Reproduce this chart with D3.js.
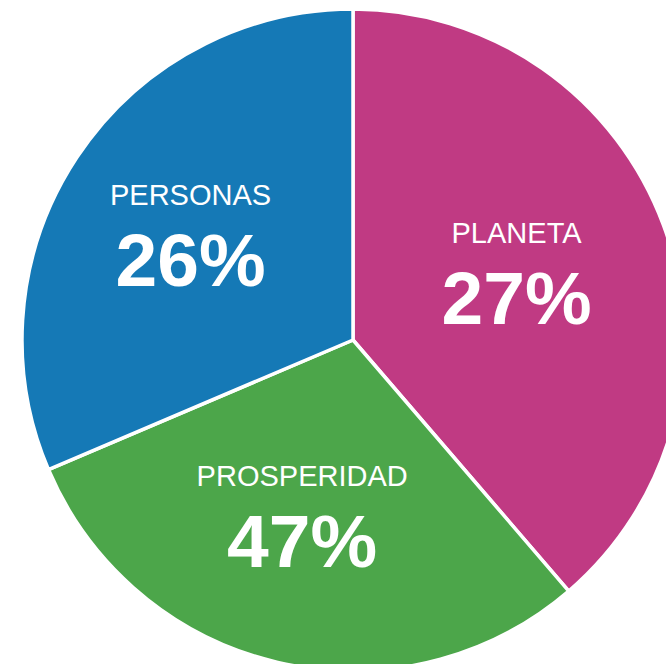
<!DOCTYPE html>
<meta charset="utf-8">
<style>
body { margin: 0; background: #fff; }
svg { font-family: "Liberation Sans", Arial, sans-serif; }
</style>
<svg width="666" height="664"></svg>
<script src="https://cdn.jsdelivr.net/npm/d3@7"></script>
<script>
// slice sizes (degrees share), labels as printed
var names = ["PLANETA", "PROSPERIDAD", "PERSONAS"];
var shares = [38.7, 29.9, 31.4];
var labels = ["27%", "47%", "26%"];
var colors = ["#c03a83", "#4ca64a", "#1579b6"];

var svg = d3.select("svg"),
    cx = 353,
    cy = 340,
    radius = 331;

var pie = d3.pie().sort(null).value(function(d) { return d; });
var arc = d3.arc().innerRadius(0).outerRadius(radius);
var labelArc = d3.arc().innerRadius(184).outerRadius(184);

var g = svg.append("g").attr("transform", "translate(" + cx + "," + cy + ")");

var slice = g.selectAll("g.slice")
    .data(pie(shares))
    .enter().append("g")
    .attr("class", "slice");

slice.append("path")
    .attr("d", arc)
    .attr("fill", function(d, i) { return colors[i]; })
    .attr("stroke", "#fff")
    .attr("stroke-width", 3.5)
    .attr("stroke-linejoin", "round");

var txt = slice.append("g")
    .attr("transform", function(d) {
      var c = labelArc.centroid(d);
      return "translate(" + (c[0] - 9) + "," + c[1] + ")";
    });

txt.append("text")
    .attr("text-anchor", "middle")
    .attr("y", -33)
    .attr("fill", "#fff")
    .style("font-size", "29px")
    .text(function(d, i) { return names[i]; });

txt.append("text")
    .attr("text-anchor", "middle")
    .attr("y", 48)
    .attr("fill", "#fff")
    .style("font-size", "75px")
    .style("font-weight", "bold")
    .text(function(d, i) { return labels[i]; });
</script>
